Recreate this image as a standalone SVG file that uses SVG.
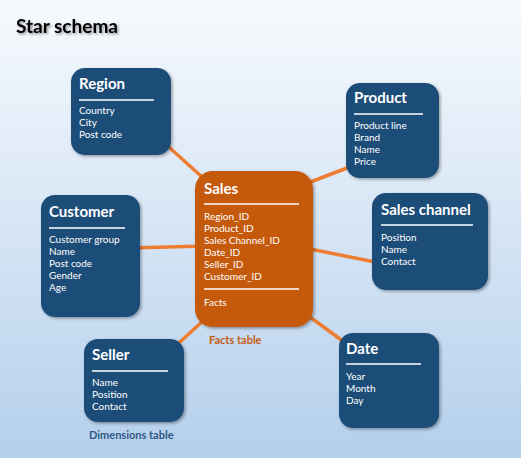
<svg xmlns="http://www.w3.org/2000/svg" width="521" height="458" viewBox="0 0 521 458">
<defs>
<linearGradient id="bg" x1="0" y1="0" x2="0" y2="1">
<stop offset="0" stop-color="#f7fafd"/>
<stop offset="0.5" stop-color="#d6e5f5"/>
<stop offset="1" stop-color="#b4cfec"/>
</linearGradient>
<filter id="sh" x="-10%" y="-10%" width="130%" height="130%">
<feDropShadow dx="1.5" dy="1.5" stdDeviation="1.5" flood-color="#000" flood-opacity="0.35"/>
</filter>
<filter id="tsh" x="-10%" y="-30%" width="130%" height="160%">
<feDropShadow dx="1.5" dy="1.5" stdDeviation="1" flood-color="#000" flood-opacity="0.4"/>
</filter>
</defs>
<style>
.dim{fill:#1f4e79;filter:url(#sh)}
.fact{fill:#c55a11;filter:url(#sh)}
.t{font-family:Lato,"Liberation Sans",sans-serif;font-weight:bold;font-size:15px;fill:#fff}
.i{font-family:Lato,"Liberation Sans",sans-serif;font-size:10px;fill:#fff}
.sep{stroke:#fff;stroke-width:1.5}
.c line{stroke:#ed7d31;stroke-width:3.5}
.lab{font-family:Lato,"Liberation Sans",sans-serif;font-weight:bold;font-size:11px}
</style>
<rect width="521" height="458" fill="url(#bg)"/>
<text x="16" y="33" font-family="Lato,'Liberation Sans',sans-serif" font-weight="bold" font-size="19" fill="#000" filter="url(#tsh)">Star schema</text>
<g class="c" id="connectors">
<line x1="160" y1="139" x2="212" y2="186"/>
<line x1="300" y1="186" x2="360" y2="163"/>
<line x1="130" y1="248" x2="205" y2="246"/>
<line x1="305" y1="248" x2="380" y2="263"/>
<line x1="170" y1="351" x2="215" y2="310"/>
<line x1="295" y1="306" x2="355" y2="350"/>
</g>
<g id="region">
<rect class="dim" x="71" y="68" width="100" height="87" rx="14"/>
<text class="t" x="79" y="89">Region</text>
<line class="sep" x1="79" y1="100" x2="154" y2="100"/>
<text class="i" x="79" y="114">Country</text>
<text class="i" x="79" y="126">City</text>
<text class="i" x="79" y="138">Post code</text>
</g>
<g id="product">
<rect class="dim" x="346" y="83" width="93" height="95" rx="14"/>
<text class="t" x="354" y="103">Product</text>
<line class="sep" x1="354" y1="114" x2="423" y2="114"/>
<text class="i" x="354" y="129">Product line</text>
<text class="i" x="354" y="141">Brand</text>
<text class="i" x="354" y="153">Name</text>
<text class="i" x="354" y="165">Price</text>
</g>
<g id="customer">
<rect class="dim" x="41" y="195" width="99" height="122" rx="14"/>
<text class="t" x="49" y="217">Customer</text>
<line class="sep" x1="49" y1="228" x2="125" y2="228"/>
<text class="i" x="49" y="243">Customer group</text>
<text class="i" x="49" y="255">Name</text>
<text class="i" x="49" y="267">Post code</text>
<text class="i" x="49" y="279">Gender</text>
<text class="i" x="49" y="291">Age</text>
</g>
<g id="sales">
<rect class="fact" x="195" y="171" width="118" height="156" rx="18"/>
<text class="t" x="204" y="194">Sales</text>
<line class="sep" x1="204" y1="204" x2="299" y2="204"/>
<text class="i" x="204" y="220">Region_ID</text>
<text class="i" x="204" y="232">Product_ID</text>
<text class="i" x="204" y="244">Sales Channel_ID</text>
<text class="i" x="204" y="256">Date_ID</text>
<text class="i" x="204" y="268">Seller_ID</text>
<text class="i" x="204" y="280">Customer_ID</text>
<line class="sep" x1="204" y1="289" x2="299" y2="289"/>
<text class="i" x="204" y="306">Facts</text>
<text class="lab" x="209" y="344" fill="#c55a11">Facts table</text>
</g>
<g id="saleschannel">
<rect class="dim" x="372" y="193" width="116" height="97" rx="14"/>
<text class="t" x="381" y="215">Sales channel</text>
<line class="sep" x1="381" y1="225" x2="473" y2="225"/>
<text class="i" x="381" y="241">Position</text>
<text class="i" x="381" y="253">Name</text>
<text class="i" x="381" y="265">Contact</text>
</g>
<g id="seller">
<rect class="dim" x="84" y="339" width="100" height="83" rx="14"/>
<text class="t" x="92" y="360">Seller</text>
<line class="sep" x1="92" y1="371" x2="168" y2="371"/>
<text class="i" x="92" y="386">Name</text>
<text class="i" x="92" y="398">Position</text>
<text class="i" x="92" y="410">Contact</text>
<text class="lab" x="89" y="439" fill="#2e5a87">Dimensions table</text>
</g>
<g id="date">
<rect class="dim" x="339" y="333" width="100" height="95" rx="14"/>
<text class="t" x="346" y="354">Date</text>
<line class="sep" x1="346" y1="364" x2="421" y2="364"/>
<text class="i" x="346" y="380">Year</text>
<text class="i" x="346" y="392">Month</text>
<text class="i" x="346" y="404">Day</text>
</g>
</svg>
